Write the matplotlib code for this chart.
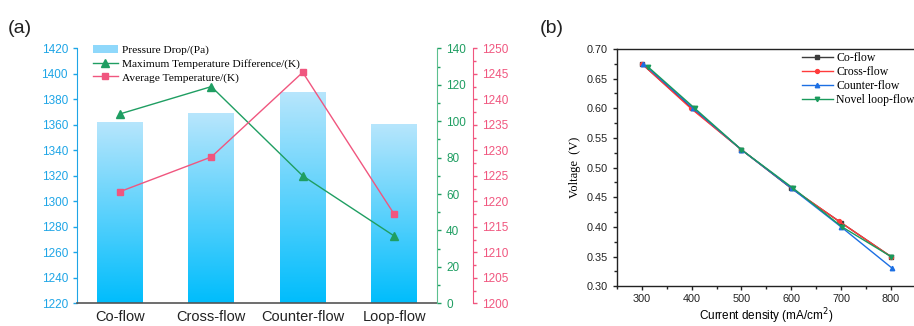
import numpy as np
import matplotlib
matplotlib.use("Agg")
import matplotlib.pyplot as plt
from matplotlib.colors import LinearSegmentedColormap
from matplotlib.patches import Rectangle
from matplotlib.lines import Line2D
from matplotlib.ticker import MultipleLocator, FormatStrFormatter

# ---------------- data ----------------
categories = ["Co-flow", "Cross-flow", "Counter-flow", "Loop-flow"]
pressure_drop = [1362, 1369, 1386, 1361]
max_temp_diff = [104, 119, 70, 37]
avg_temp = [1221.9, 1228.7, 1245.3, 1217.5]

current_co = [300, 400, 500, 600, 700, 800]
voltage_co = [0.675, 0.600, 0.530, 0.465, 0.407, 0.350]
current_cross = [300, 398, 500, 601, 695, 800]
voltage_cross = [0.675, 0.600, 0.530, 0.465, 0.410, 0.350]
current_counter = [303, 403, 500, 601, 700, 803]
voltage_counter = [0.675, 0.600, 0.530, 0.465, 0.400, 0.330]
current_loop = [312, 406, 500, 604, 702, 800]
voltage_loop = [0.670, 0.600, 0.530, 0.465, 0.400, 0.350]

SANS = "Liberation Sans"
SERIF = "Liberation Serif"
BLUE = "#1ea5e6"
GREEN = "#1f9e62"
GREEN_SP = "#5cc08f"
PINK = "#f0567f"

fig = plt.figure(figsize=(9.14, 3.26), dpi=100)

# ---------------- panel (a) ----------------
ax = fig.add_axes([0.0842, 0.0696, 0.394, 0.782])
x = np.arange(len(categories))
bars = ax.bar(x, pressure_drop, width=0.5, bottom=0, color="none", edgecolor="none")
cmap = LinearSegmentedColormap.from_list("bl", ["#00bdfc", "#b8e6fc"])
grad = np.linspace(0, 1, 256).reshape(-1, 1)
for b in bars:
    x0 = b.get_x(); w = b.get_width(); h = b.get_height()
    im = ax.imshow(grad, cmap=cmap, origin="lower", aspect="auto",
                   extent=[x0, x0 + w, 1220, h], zorder=1)
    im.set_clip_path(b)
ax.set_xlim(-0.47, 3.47)
ax.set_ylim(1220, 1420)
ax.set_xticks(x)
ax.set_xticklabels(categories, fontfamily=SANS, fontsize=10.5, color="#222222")
ax.tick_params(axis="x", length=0, pad=5)
ax.yaxis.set_major_locator(MultipleLocator(20))
ax.tick_params(axis="y", colors=BLUE, labelsize=8.5, length=3, width=1)
for lab in ax.get_yticklabels():
    lab.set_fontfamily(SANS)
ax.spines["left"].set_color(BLUE)
ax.spines["bottom"].set_color("#555555")
ax.spines["bottom"].set_linewidth(1.2)
ax.spines["top"].set_visible(False)
ax.spines["right"].set_visible(False)

axg = ax.twinx()
axg.plot(x, max_temp_diff, color=GREEN, marker="^", markersize=6, lw=1.0)
axg.set_ylim(0, 140)
axg.yaxis.set_major_locator(MultipleLocator(20))
axg.yaxis.set_minor_locator(MultipleLocator(10))
axg.tick_params(axis="y", which="both", colors=GREEN, labelsize=8.5, width=1)
axg.tick_params(axis="y", which="major", length=3)
axg.tick_params(axis="y", which="minor", length=2)
for lab in axg.get_yticklabels():
    lab.set_fontfamily(SANS)
axg.spines["right"].set_color(GREEN_SP)
for s in ["top", "left", "bottom"]:
    axg.spines[s].set_visible(False)

axp = ax.twinx()
axp.plot(x, avg_temp, color=PINK, marker="s", markersize=4.5, lw=1.0)
axp.set_ylim(1200, 1250)
axp.spines["right"].set_position(("axes", 1.1))
axp.yaxis.set_major_locator(MultipleLocator(5))
axp.yaxis.set_minor_locator(MultipleLocator(2.5))
axp.tick_params(axis="y", which="both", colors=PINK, labelsize=8.5, width=1)
axp.tick_params(axis="y", which="major", length=3)
axp.tick_params(axis="y", which="minor", length=2)
for lab in axp.get_yticklabels():
    lab.set_fontfamily(SANS)
axp.spines["right"].set_color(PINK)
for s in ["top", "left", "bottom"]:
    axp.spines[s].set_visible(False)

handles = [Rectangle((0, 0), 1, 1, facecolor="#8fd8fb", edgecolor="none"),
           Line2D([], [], color=GREEN, marker="^", markersize=6, lw=1.0),
           Line2D([], [], color=PINK, marker="s", markersize=4.5, lw=1.0)]
labels = ["Pressure Drop/(Pa)", "Maximum Temperature Difference/(K)", "Average Temperature/(K)"]
axp.legend(handles, labels, loc="upper left", bbox_to_anchor=(0.025, 1.04), frameon=False,
           prop={"family": SERIF, "size": 8.2}, handlelength=2.2, labelspacing=0.3,
           borderaxespad=0.2, handletextpad=0.4)

fig.text(0.008, 0.90, "(a)", fontfamily=SANS, fontsize=14, color="#222222")

# ---------------- panel (b) ----------------
bx = fig.add_axes([0.675, 0.122, 0.327, 0.728])
bx.plot(current_co, voltage_co, color="#3c3c3c", marker="s", markersize=2.8, lw=1.0, label="Co-flow")
bx.plot(current_cross, voltage_cross, color="#ff3b3b", marker="o", markersize=2.8, lw=1.0, label="Cross-flow")
bx.plot(current_counter, voltage_counter, color="#1c6fe3", marker="^", markersize=3.2, lw=1.0, label="Counter-flow")
bx.plot(current_loop, voltage_loop, color="#1a9a5c", marker="v", markersize=3.2, lw=1.0, label="Novel loop-flow")
bx.set_xlim(250, 850)
bx.set_ylim(0.30, 0.70)
bx.xaxis.set_major_locator(MultipleLocator(100))
bx.xaxis.set_minor_locator(MultipleLocator(50))
bx.yaxis.set_major_locator(MultipleLocator(0.05))
bx.yaxis.set_minor_locator(MultipleLocator(0.025))
bx.yaxis.set_major_formatter(FormatStrFormatter("%.2f"))
bx.tick_params(which="both", direction="out", labelsize=7.8, width=1, colors="#222222")
bx.tick_params(which="major", length=3)
bx.tick_params(which="minor", length=2)
bx.tick_params(axis="x", pad=2.5)
for lab in bx.get_xticklabels() + bx.get_yticklabels():
    lab.set_fontfamily(SANS)
for s in bx.spines.values():
    s.set_color("#222222")
    s.set_linewidth(1.0)
bx.set_xlabel("Current density (mA/cm$^{2}$)", fontfamily=SANS, fontsize=8.5, labelpad=1.5)
bx.set_ylabel("Voltage  (V)", fontfamily=SERIF, fontsize=9, labelpad=4)
bx.legend(loc="upper right", bbox_to_anchor=(1.02, 1.015), frameon=False,
          prop={"family": SERIF, "size": 8.5}, handlelength=2.6, labelspacing=0.15,
          handletextpad=0.3, borderaxespad=0.2)

fig.text(0.59, 0.90, "(b)", fontfamily=SANS, fontsize=14, color="#222222")

fig.savefig("out.png", dpi=100)
